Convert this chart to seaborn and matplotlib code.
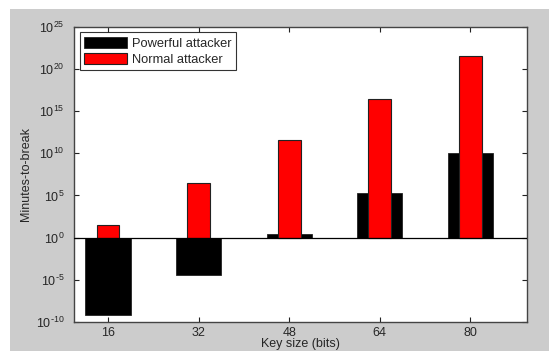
import matplotlib
matplotlib.use('Agg')
import matplotlib.pyplot as plt
import seaborn as sns
import numpy as np
from matplotlib.patches import Rectangle

# values are log10(minutes-to-break)
key_sizes = [16, 32, 48, 64, 80]
powerful_exp = [-9.2, -4.4, 0.45, 5.25, 10.0]
normal_exp = [1.55, 6.45, 11.6, 16.45, 21.5]
ytick_exp = [-10, -5, 0, 5, 10, 15, 20, 25]

sns.set_style('white')
plt.rcParams['font.family'] = ['Liberation Sans', 'DejaVu Sans']
plt.rcParams['mathtext.default'] = 'regular'
plt.rcParams['axes.unicode_minus'] = False

fig = plt.figure(figsize=(5.49, 3.51), dpi=100, facecolor='white')
# grey MATLAB-style figure window
fig.patches.append(Rectangle((10 / 549, 0), 1, (351 - 9) / 351, transform=fig.transFigure,
                             facecolor='#cccccc', edgecolor='none', zorder=-10))
ax = fig.add_axes([74 / 549, (351 - 322) / 351, (527 - 74) / 549, (322 - 26.7) / 351])
ax.set_facecolor('white')

sns.barplot(x=key_sizes, y=powerful_exp, native_scale=True, width=0.5, color='black',
            saturation=1, edgecolor='#222222', linewidth=0.6, label='Powerful attacker', ax=ax)
sns.barplot(x=key_sizes, y=normal_exp, native_scale=True, width=0.25, color='red',
            saturation=1, edgecolor='#222222', linewidth=0.8, label='Normal attacker', ax=ax)

ax.axhline(0, color='black', lw=0.9, zorder=3)


def pow_label(e):
    # short hyphen in the exponent like the MATLAB original
    s = str(e).replace('-', r'\text{-}')
    return '$10^{%s}$' % s


ax.set_xlim(10, 90)
ax.set_ylim(-10, 25)
ax.set_xticks(key_sizes)
ax.set_xticklabels([str(k) for k in key_sizes])
ax.set_yticks(ytick_exp)
ax.set_yticklabels([pow_label(e) for e in ytick_exp])
ax.tick_params(direction='in', length=3.5, width=0.8, color='#222222', labelsize=9,
               top=True, right=True, bottom=True, left=True)
ax.tick_params(axis='x', pad=3.5)
ax.tick_params(axis='y', pad=7)
for s in ax.spines.values():
    s.set_color('#444444')
    s.set_linewidth(1.0)

ax.set_xlabel('Key size (bits)', fontsize=9)
ax.set_ylabel('Minutes-to-break', fontsize=9)
ax.xaxis.set_label_coords(0.5, -0.054)
ax.yaxis.set_label_coords(-0.106, 0.5)
ax.yaxis.label.set_verticalalignment('center')

leg = ax.legend(loc='upper left', fontsize=9, frameon=True, fancybox=False,
                edgecolor='black', handlelength=3.4, handleheight=1.0,
                borderaxespad=0.45, labelspacing=0.25, borderpad=0.35, handletextpad=0.4)
leg.get_frame().set_linewidth(0.8)
for t in leg.get_texts():
    t.set_fontsize(9.3)

plt.savefig('out.png', dpi=100, facecolor=fig.get_facecolor())
